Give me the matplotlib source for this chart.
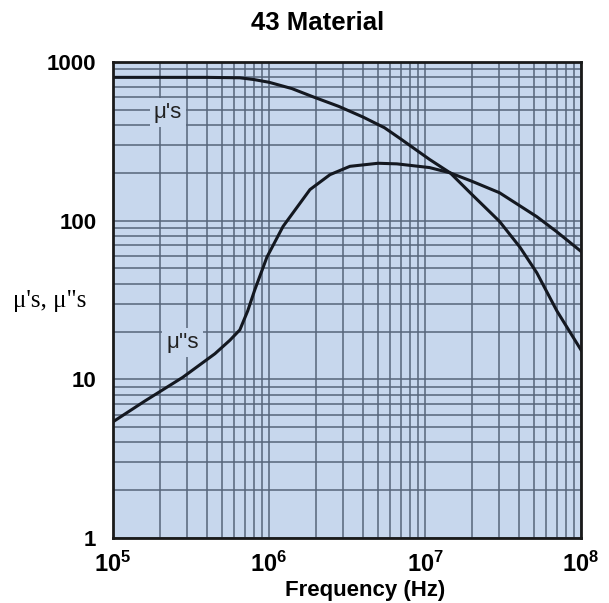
import numpy as np
import matplotlib

matplotlib.use("Agg")
import matplotlib.pyplot as plt
from matplotlib.ticker import LogLocator, NullFormatter

plt.rcParams["font.family"] = ["Liberation Sans", "DejaVu Sans"]
plt.rcParams["mathtext.fontset"] = "custom"
plt.rcParams["mathtext.bf"] = "Liberation Sans:bold"
plt.rcParams["mathtext.rm"] = "Liberation Sans"

f_mu1 = [1e5, 2e5, 4e5, 6.5e5, 8e5, 1.0e6, 1.4e6, 1.9e6, 2.8e6, 4.0e6, 5.5e6,
         6.9e6, 1.07e7, 1.45e7, 2.0e7, 3.0e7, 4.06e7, 5.2e7, 7.0e7, 1e8]
mu1 = [800, 800, 800, 795, 775, 745, 680, 605, 525, 450, 385,
       330, 243, 200, 146, 99, 68, 47, 27, 15.3]

# μ''s (imaginary part)
f_mu2 = [1e5, 1.6e5, 2.8e5, 4.5e5, 5.6e5, 6.5e5, 7.3e5, 8.1e5, 9.7e5, 1.23e6,
         1.83e6, 2.46e6, 3.3e6, 5.0e6, 6.6e6, 1.07e7, 1.45e7, 2.0e7,
         3.0e7, 5.2e7, 7.0e7, 1e8]
mu2 = [5.4, 7.3, 10.3, 14.5, 17.6, 20.5, 27, 36.6, 59, 92,
       157, 195, 220, 230, 228, 216, 200, 177, 150, 106, 85, 64]

xticks = [1e5, 1e6, 1e7, 1e8]
xlabels = [r"$\mathbf{10^5}$", r"$\mathbf{10^6}$", r"$\mathbf{10^7}$", r"$\mathbf{10^8}$"]
yticks = [1, 10, 100, 1000]
ylabels = ["1", "10", "100", "1000"]

BG = "#c7d7ed"
GRID = "#56657a"

fig = plt.figure(figsize=(6.09, 6.03), dpi=100)
ax = fig.add_axes([0.1856, 0.1078, 0.7685, 0.7894])
ax.set_facecolor(BG)
ax.set_xscale("log")
ax.set_yscale("log")
ax.set_xlim(1e5, 1e8)
ax.set_ylim(1, 1000)

ax.xaxis.set_minor_locator(LogLocator(base=10, subs=np.arange(2, 10)))
ax.yaxis.set_minor_locator(LogLocator(base=10, subs=np.arange(2, 10)))
ax.xaxis.set_minor_formatter(NullFormatter())
ax.yaxis.set_minor_formatter(NullFormatter())
ax.grid(True, which="both", color=GRID, lw=1.1)
ax.set_axisbelow(True)

ax.plot(f_mu1, mu1, color="#141820", lw=2.2)
ax.plot(f_mu2, mu2, color="#141820", lw=2.2)

box = dict(facecolor=BG, edgecolor="none", pad=3)
ax.text(2.25e5, 480, "μ's", fontsize=16, ha="center", va="center", color="#222", bbox=box)
ax.text(2.8e5, 17, "μ''s", fontsize=16, ha="center", va="center", color="#222", bbox=box)

ax.set_xticks(xticks, xlabels)
ax.set_yticks(yticks, ylabels)
ax.tick_params(which="both", length=0)
ax.tick_params(axis="x", labelsize=17, pad=10)
ax.tick_params(axis="y", labelsize=16, pad=12)
for t in ax.get_yticklabels():
    t.set_fontweight("bold")
for s in ax.spines.values():
    s.set_linewidth(2)
    s.set_color("#1a1a1a")

ax.set_xlabel("Frequency (Hz)", fontsize=16, fontweight="bold")
ax.xaxis.set_label_coords(0.538, -0.088)
fig.text(0.082, 0.5, "μ's, μ\"s", fontsize=18, ha="center", va="center",
         family=["Liberation Serif", "DejaVu Serif"])
fig.text(0.522, 0.962, "43 Material", fontsize=18.5, fontweight="bold",
         ha="center", va="center")

fig.savefig("out.png", dpi=100, facecolor="white")
